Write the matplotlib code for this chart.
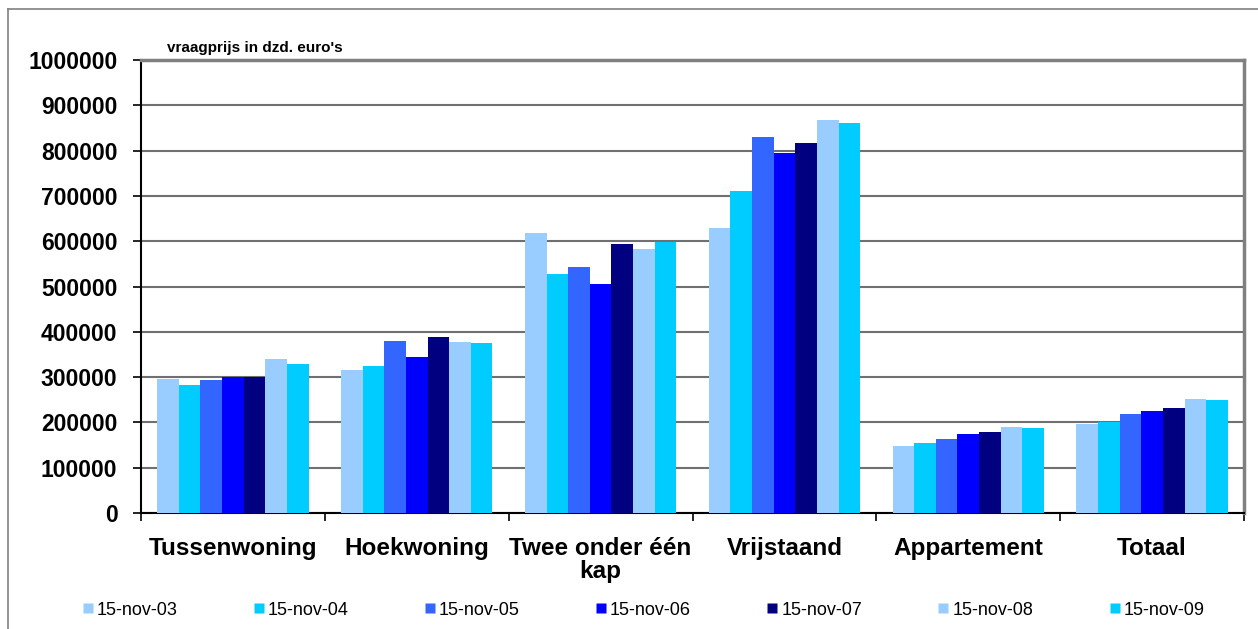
import numpy as np
import matplotlib.pyplot as plt
from matplotlib.lines import Line2D

categories = ['Tussenwoning', 'Hoekwoning', 'Twee onder één\nkap', 'Vrijstaand', 'Appartement', 'Totaal']
series_labels = ['15-nov-03', '15-nov-04', '15-nov-05', '15-nov-06', '15-nov-07', '15-nov-08', '15-nov-09']
colors = ['#99CCFF', '#00CCFF', '#3366FF', '#0000FF', '#000080', '#99CCFF', '#00CCFF']

nov03 = [295000, 316000, 618000, 630000, 149000, 197000]
nov04 = [282000, 324000, 527000, 711000, 155000, 202000]
nov05 = [293000, 379000, 542000, 831000, 163000, 218000]
nov06 = [300000, 344000, 505000, 794000, 174000, 226000]
nov07 = [300000, 389000, 593000, 816000, 178000, 232000]
nov08 = [339000, 377000, 583000, 868000, 190000, 251000]
nov09 = [328000, 376000, 598000, 861000, 188000, 250000]
series = [nov03, nov04, nov05, nov06, nov07, nov08, nov09]

plt.rcParams['font.family'] = ['Liberation Sans', 'DejaVu Sans']

fig = plt.figure(figsize=(12.58, 6.29), dpi=100)
ax = fig.add_axes([0.1121, 0.1844, 0.8768, 0.7202])

n = len(series)
w = 1.0 / (n + 1.5)
x = np.arange(len(categories))
for i, vals in enumerate(series):
    ax.bar(x - 0.5 + 0.75 * w + (i + 0.5) * w, vals, width=w, color=colors[i],
           edgecolor='none', zorder=3, label=series_labels[i])

ax.set_xlim(-0.5, len(categories) - 0.5)
ax.set_ylim(0, 1000000)
ax.set_yticks(np.arange(0, 1000001, 100000))
ax.set_yticklabels([str(v) for v in range(0, 1000001, 100000)], fontsize=16.5, fontweight='bold')
ax.yaxis.grid(True, color='#707070', linewidth=1.5, zorder=0)
ax.tick_params(axis='y', length=6, width=1.2, pad=11, direction='out')

ax.set_xticks(x)
ax.set_xticklabels(categories, fontsize=17.5, fontweight='bold', linespacing=1.0)
ax.tick_params(axis='x', which='major', length=0, pad=17)
ax.set_xticks(np.arange(-0.5, len(categories)), minor=True)
ax.tick_params(axis='x', which='minor', length=6, width=1.2, direction='out')

for s in ['left', 'bottom']:
    ax.spines[s].set_color('black')
    ax.spines[s].set_linewidth(1.5)
for s in ['top', 'right']:
    ax.spines[s].set_color('#808080')
    ax.spines[s].set_linewidth(2.5)

fig.text(167 / 1258, 1 - 52 / 629, "vraagprijs in dzd. euro's", fontsize=11,
         fontweight='bold', va='baseline', ha='left')

handles = [Line2D([], [], marker='s', linestyle='none', markersize=7,
                  markerfacecolor=c, markeredgecolor='none') for c in colors]
fig.legend(handles, series_labels, loc='center', bbox_to_anchor=(0.51, 0.03), ncol=7,
           frameon=False, fontsize=13, handletextpad=0.0, columnspacing=4.0,
           handlelength=1.0)

# figure border
fig.add_artist(Line2D([8 / 1258, 8 / 1258], [0, 1 - 9 / 629], transform=fig.transFigure,
                      color='#808080', linewidth=1.2))
fig.add_artist(Line2D([8 / 1258, 1], [1 - 9 / 629, 1 - 9 / 629], transform=fig.transFigure,
                      color='#808080', linewidth=1.2))

fig.savefig('out.png', dpi=100)
